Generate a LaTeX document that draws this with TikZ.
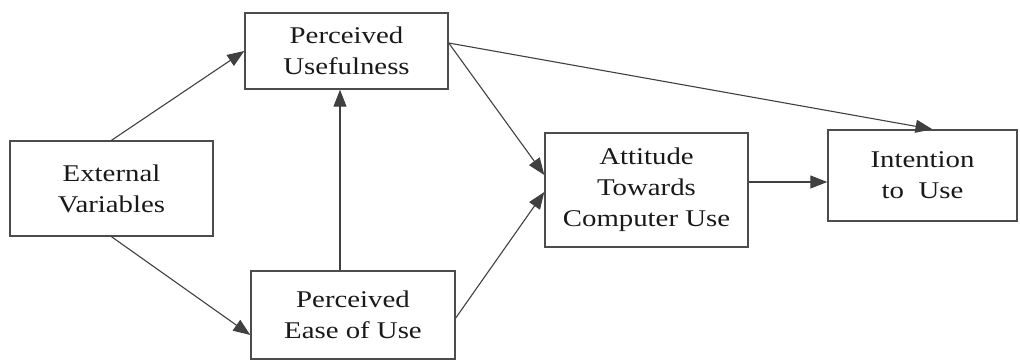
\documentclass[tikz,border=0pt]{standalone}
\usepackage{fontspec}
\setmainfont{Liberation Serif}[FakeStretch=1.2]
\usetikzlibrary{arrows.meta}
\begin{document}
\begin{tikzpicture}[x=1pt,y=-1pt,
  box/.style={draw=black!70,line width=1.4pt,rectangle,inner sep=0pt,align=center,
    font=\fontsize{24}{31}\selectfont,text=black!90},
  conn/.style={draw=black!75,line width=1.1pt,-{Triangle[length=17pt,width=13pt]}}]
\useasboundingbox (0,0) rectangle (1020,362);
\node[box,minimum width=203pt,minimum height=95pt] (EV) at (111.5,188.5) {External\\Variables};
\node[box,minimum width=203pt,minimum height=76pt] (PU) at (346.5,51) {Perceived\\Usefulness};
\node[box,minimum width=204pt,minimum height=88pt] (PEOU) at (353,315) {Perceived\\Ease of Use};
\node[box,minimum width=203pt,minimum height=114pt] (AT) at (646.5,190) {Attitude\\Towards\\Computer Use};
\node[box,minimum width=189pt,minimum height=91pt] (IU) at (922.5,175.5) {Intention\\to\ \ Use};
\draw[conn] (EV.north) -- (PU.west);
\draw[conn] (EV.south) -- ([yshift=-20pt]PEOU.west);
\draw[conn] ([xshift=-13pt]PEOU.north) -- ([xshift=-13pt]PEOU.north |- PU.south);
\draw[conn] ([yshift=8pt]PU.east) -- ([yshift=15pt]AT.west);
\draw[conn] ([yshift=-3pt]PEOU.east) -- ([yshift=-2pt]AT.west);
\draw[conn] ([yshift=8pt]PU.east) -- ([xshift=10pt]IU.north);
\draw[conn] ([yshift=8pt]AT.east) -- ([yshift=8pt]AT.east -| IU.west);
\end{tikzpicture}
\end{document}
